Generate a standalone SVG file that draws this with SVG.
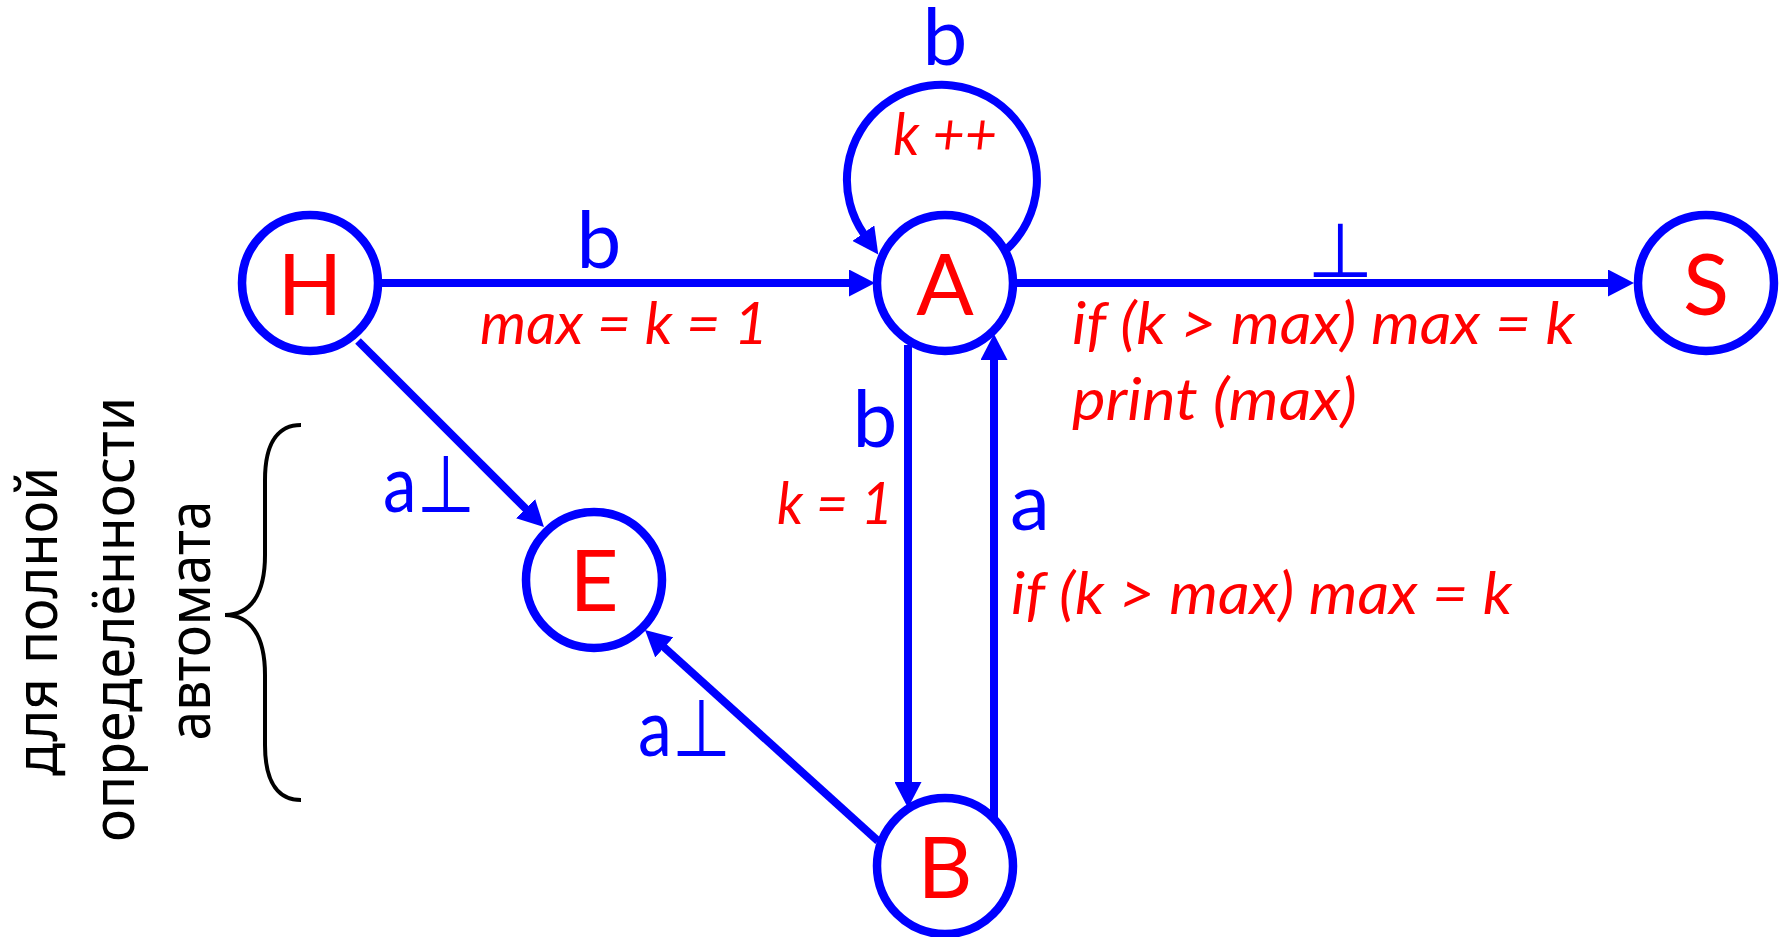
<svg xmlns="http://www.w3.org/2000/svg" width="1783" height="937" viewBox="0 0 1783 937">
<style>
.node{fill:#fff;stroke:#0000ff;stroke-width:8.5}
.nl{font-family:Lato,"Open Sans",sans-serif;font-size:85px;fill:#ff0000;text-anchor:middle}
.edge{fill:none;stroke:#0000ff;stroke-width:8;marker-end:url(#arr)}
.bl{font-family:Lato,"DejaVu Sans",sans-serif;font-size:80px;fill:#0000ff}
.rl{font-family:Lato,"Open Sans",sans-serif;font-style:italic;font-size:58px;fill:#ff0000}
.vt{font-family:"Noto Sans","Open Sans",sans-serif;font-size:58px;fill:#000;text-anchor:middle}
</style>
<defs>
<marker id="arr" markerUnits="userSpaceOnUse" viewBox="0 0 26 27" markerWidth="26" markerHeight="27" refX="2" refY="13.5" orient="auto">
<path d="M0,0 L26,13.5 L0,27 z" fill="#0000ff"/>
</marker>
</defs>
<rect width="1783" height="937" fill="#fff"/>
<g id="connectors">
<path class="edge" d="M378 283 H851"/>
<path class="edge" d="M1010 283 H1610"/>
<path class="edge" d="M1006 250 A95 95 0 1 0 864.4 234.8"/>
<path class="edge" d="M908 345 V784"/>
<path class="edge" d="M994 818 V358"/>
<path class="edge" d="M358 341 L527 510"/>
<path class="edge" d="M878 841 L662.8 646.1"/>
</g>
<g id="node-H"><circle class="node" cx="310" cy="283" r="68"/><text class="nl" x="310" y="315">H</text></g>
<g id="node-A"><circle class="node" cx="945" cy="283" r="68"/><text class="nl" x="945" y="315">A</text></g>
<g id="node-S"><circle class="node" cx="1706" cy="283" r="68"/><text class="nl" x="1706" y="315">S</text></g>
<g id="node-E"><circle class="node" cx="594" cy="580" r="68"/><text class="nl" x="594" y="611">E</text></g>
<g id="node-B"><circle class="node" cx="945" cy="866" r="68"/><text class="nl" x="945" y="898">B</text></g>
<g id="edge-labels">
<text class="bl" x="599" y="268" text-anchor="middle">b</text>
<text class="rl" x="480" y="344" textLength="288" lengthAdjust="spacingAndGlyphs">max = k = 1</text>
<text class="bl" x="945" y="65" text-anchor="middle">b</text>
<text class="rl" x="893" y="155" textLength="104" lengthAdjust="spacingAndGlyphs">k ++</text>
<text class="bl" x="1340" y="277" text-anchor="middle" style="font-size:76px">⊥</text>
<text class="rl" x="1072" y="344" textLength="503" lengthAdjust="spacingAndGlyphs">if (k &gt; max) max = k</text>
<text class="rl" x="1072" y="420" textLength="285" lengthAdjust="spacingAndGlyphs">print (max)</text>
<text class="bl" x="875" y="447" text-anchor="middle">b</text>
<text class="rl" x="777" y="524" textLength="116" lengthAdjust="spacingAndGlyphs">k = 1</text>
<text class="bl" x="1030" y="530" text-anchor="middle">a</text>
<text class="rl" x="1011" y="614" textLength="501" lengthAdjust="spacingAndGlyphs">if (k &gt; max) max = k</text>
<text class="bl" x="383" y="512" textLength="92" lengthAdjust="spacingAndGlyphs">a⊥</text>
<text class="bl" x="638" y="756" textLength="93" lengthAdjust="spacingAndGlyphs">a⊥</text>
</g>
<g id="note">
<text class="vt" transform="translate(57,621.5) rotate(-90)" textLength="309" lengthAdjust="spacingAndGlyphs">для полной</text>
<text class="vt" transform="translate(134,619.5) rotate(-90)" textLength="445" lengthAdjust="spacingAndGlyphs">определённости</text>
<text class="vt" transform="translate(210,620.5) rotate(-90)" textLength="240" lengthAdjust="spacingAndGlyphs">автомата</text>
<path d="M301 425 C280 425 265 440 265 480 L265 555 C265 595 250 615 225 615 C250 615 265 635 265 675 L265 745 C265 785 280 800 301 800" fill="none" stroke="#000" stroke-width="4"/>
</g>
</svg>
